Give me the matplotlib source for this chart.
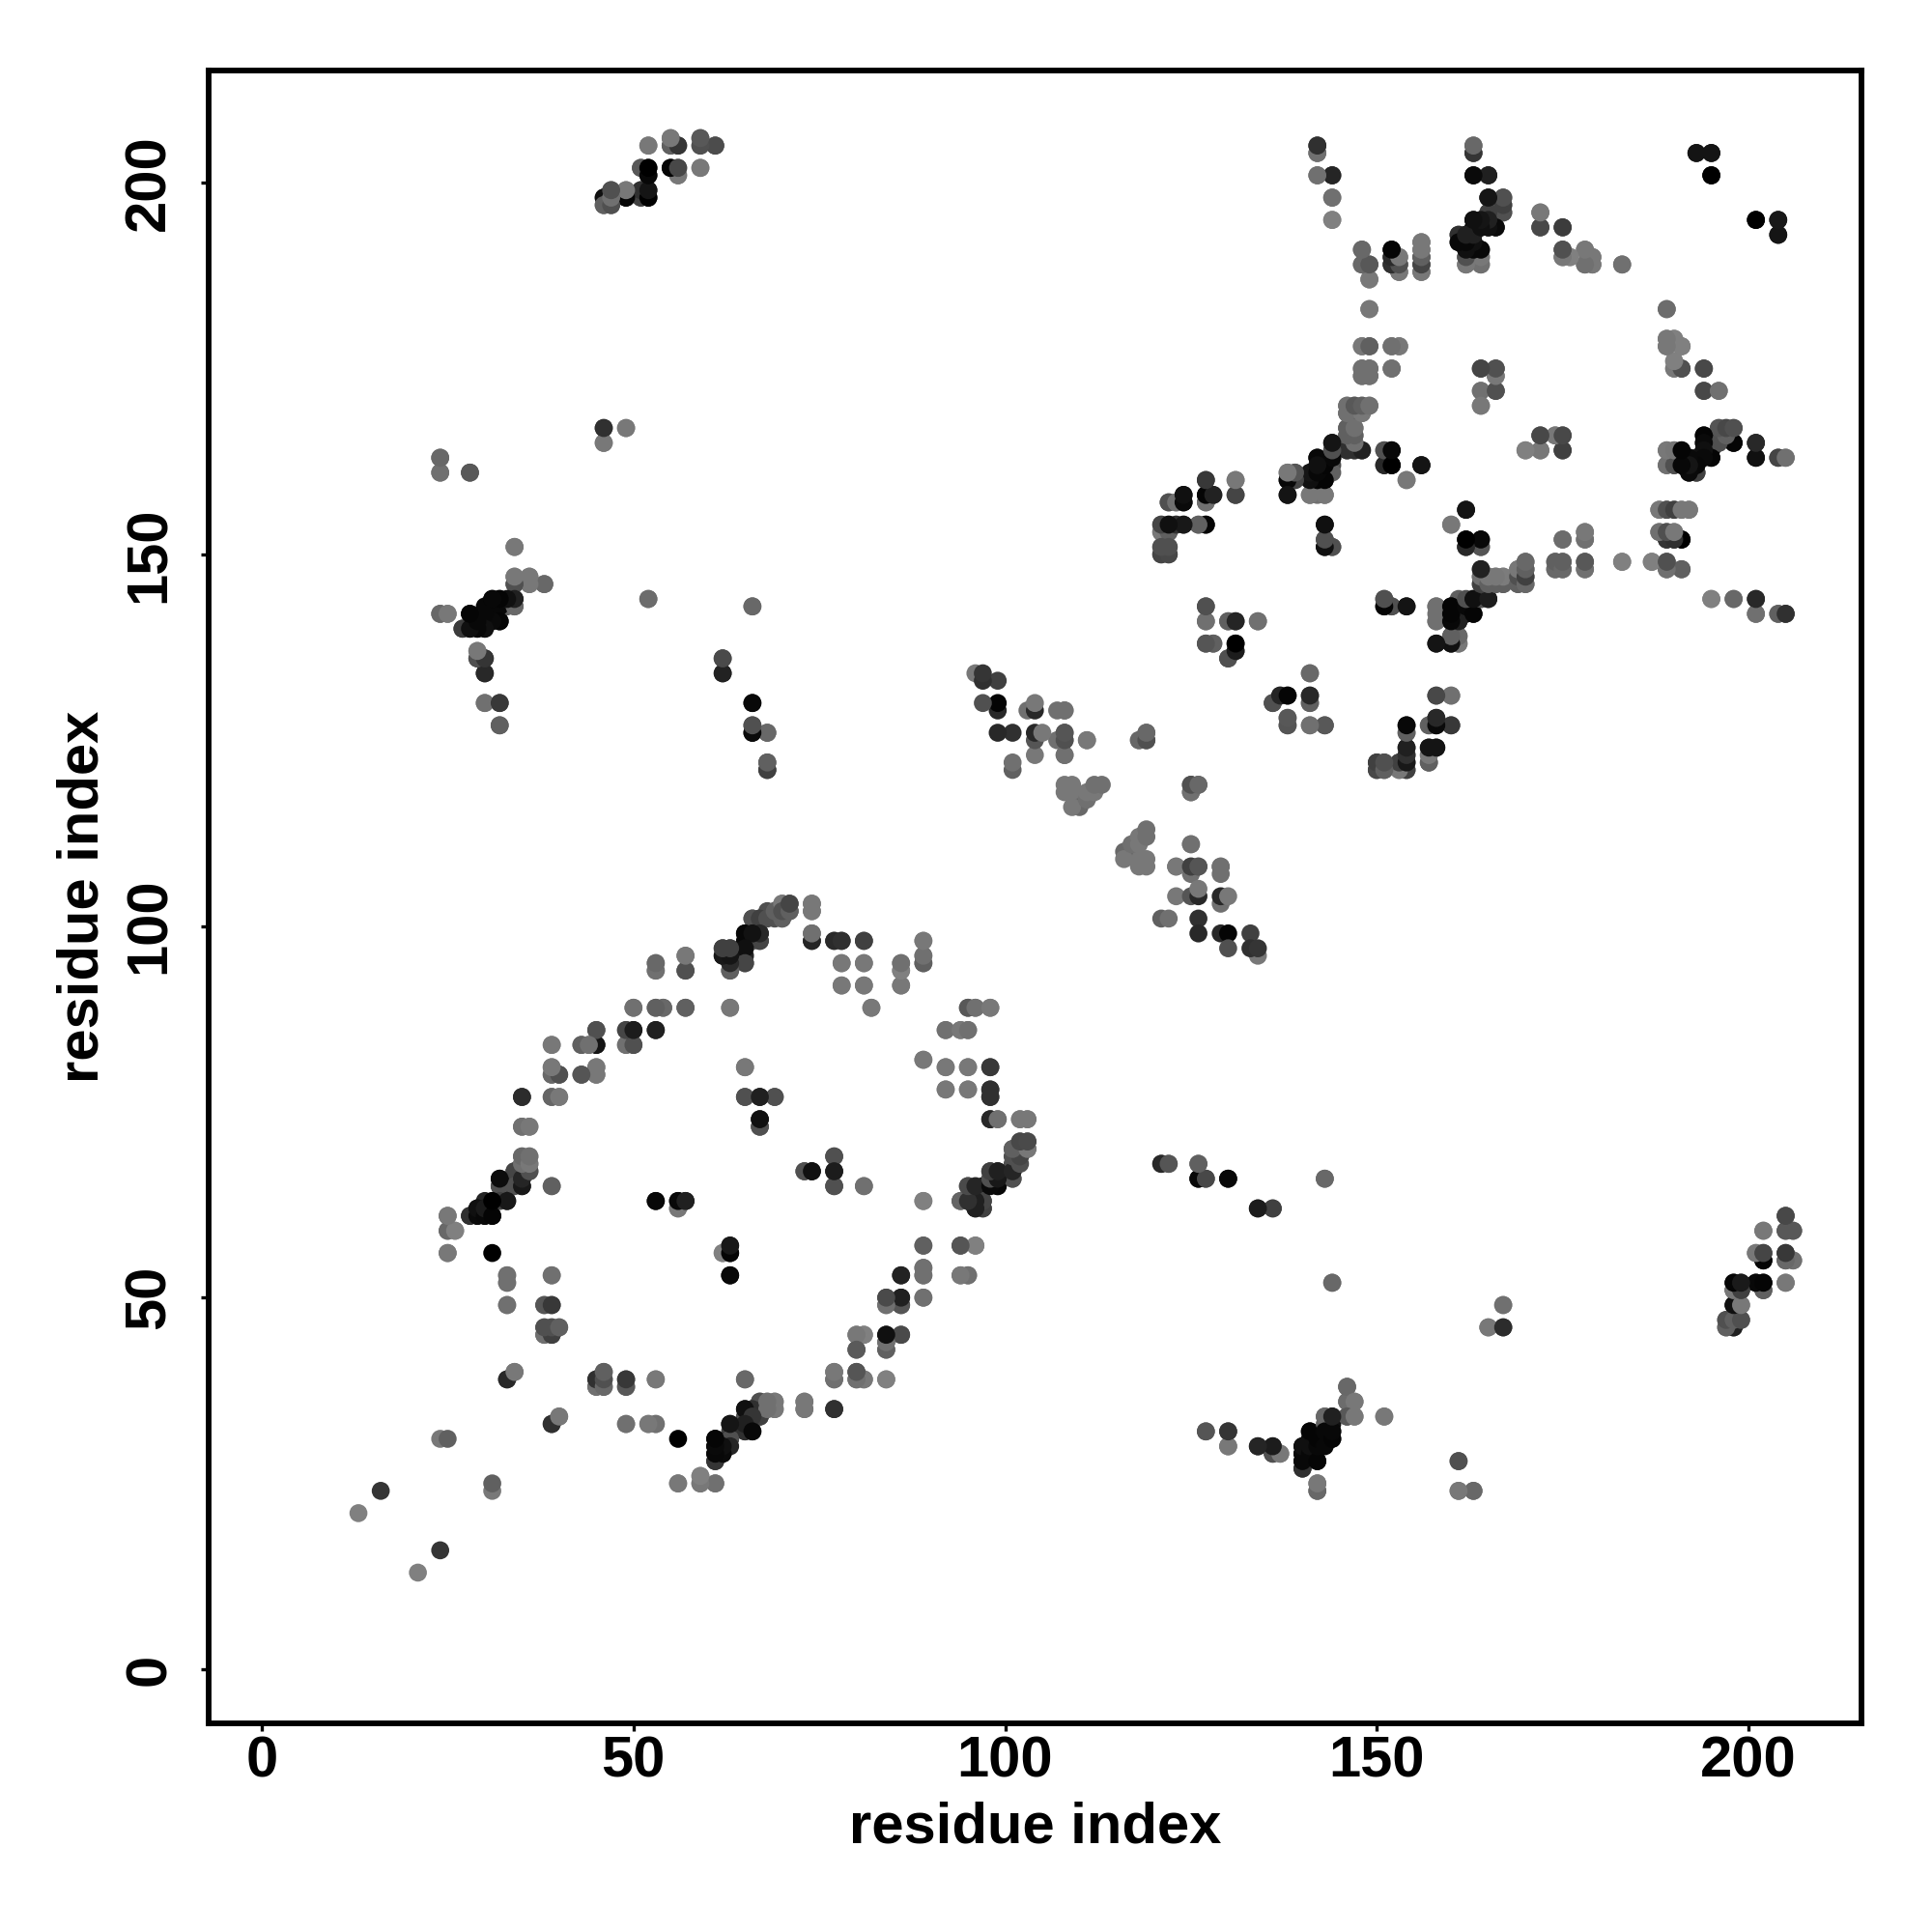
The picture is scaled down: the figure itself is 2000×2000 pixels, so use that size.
import matplotlib
matplotlib.use("Agg")
import matplotlib.pyplot as plt

# contacts as (residue a, residue b, grey level); the map is symmetric
ring_west = [(57,96,0x80),(57,94,0x55),(53,95,0x70),(53,94,0x78),(57,89,0x60),(53,89,0x70),(54,89,0x70),(50,89,0x70),
 (53,86,0x22),(49,86,0x55),(50,86,0x20),(49,84,0x70),(50,84,0x4a),(45,86,0x4a),(43,84,0x60),(44,84,0x70),(45,84,0x10),
 (39,84,0x80),(45,81,0x80),(45,80,0x78),(43,80,0x5a),(39,81,0x78),(39,80,0x70),(40,80,0x55),(39,77,0x70),(40,77,0x78),
 (35,77,0x30),(35,73,0x78),(36,73,0x78),(35,69,0x78),(36,69,0x78),(36,67,0x50),(34,67,0x40),(35,66,0x30),(35,68,0x70),(36,68,0x70),
 (39,65,0x68),(35,65,0x10),(34,66,0x35),(32,65,0x30),(33,65,0x20),(32,66,0x08),(31,63,0x50),(30,63,0x25),(33,63,0x15),
 (53,63,0x08),(56,62,0x80),(56,63,0x05),(57,63,0x18),(28,61,0x35),(29,62,0x0a),(30,62,0x10),(29,61,0x08),(30,61,0x0a),(31,61,0x05),
 (25,61,0x70),(25,59,0x78),(26,59,0x80),(25,56,0x78),(31,56,0x00)]
ring_south = [(33,53,0x70),(33,52,0x78),(39,53,0x78),(33,49,0x70),(38,49,0x58),(39,49,0x38),(38,45,0x70),(39,45,0x30),
 (38,46,0x68),(39,46,0x50),(40,46,0x60),(33,39,0x30),(34,40,0x78),(45,38,0x70),(45,39,0x40),(46,38,0x50),(46,39,0x50),(46,40,0x60),
 (49,38,0x55),(49,39,0x38),(53,39,0x70),(39,33,0x28),(40,34,0x78),(49,33,0x70),(52,33,0x70),(53,33,0x70),(24,31,0x78),(25,31,0x60),
 (16,24,0x35),(13,21,0x80),(56,25,0x78),(59,25,0x68),(59,26,0x80),(61,25,0x78)]
ring_north = [(62,97,0x40),(63,97,0x45),(62,96,0x20),(63,94,0x65),(63,96,0x20),(63,95,0x30),(65,95,0x4a),(65,96,0x25),(63,89,0x80),
 (65,99,0x08),(65,98,0x0a),(66,101,0x50),(66,98,0x50),(66,99,0x18),(67,98,0x40),(67,99,0x20),(67,101,0x25),(68,102,0x50),(69,101,0x50),
 (69,102,0x45),(70,101,0x60),(70,103,0x78),(71,102,0x48),(71,103,0x4a),(74,103,0x78),(74,102,0x78),(74,98,0x28),(74,99,0x70),
 (77,98,0x30),(78,98,0x30),(81,98,0x38),(78,95,0x78),(81,95,0x78),(78,92,0x78),(81,92,0x78),(82,89,0x78),(86,92,0x70),(86,94,0x78),(86,95,0x70),
 (89,95,0x58),(89,96,0x70),(89,98,0x78),(89,82,0x78),(92,86,0x78),(94,86,0x80),(95,86,0x70),(95,89,0x60),(96,89,0x70),(98,89,0x78),
 (92,81,0x78),(95,81,0x78),(98,81,0x40),(92,78,0x78),(95,78,0x78),(98,77,0x2a),(98,78,0x30),(98,74,0x25),(99,74,0x70),(102,74,0x78),(103,74,0x78)]
ring_east = [(101,66,0x50),(101,67,0x40),(101,68,0x50),(102,69,0x60),(103,70,0x78),(101,70,0x60),(102,70,0x50),(102,71,0x60),(103,71,0x45),
 (98,66,0x70),(98,67,0x45),(99,67,0x28),(99,65,0x08),(99,66,0x12),(97,65,0x10),(95,65,0x45),(94,63,0x60),(95,63,0x2a),(96,62,0x18),(96,63,0x15),
 (97,62,0x40),(97,63,0x40),(89,63,0x78),(89,57,0x60),(94,57,0x50),(96,57,0x78),(89,54,0x68),(89,53,0x60),(94,53,0x70),(95,53,0x68),(86,53,0x20),
 (89,50,0x70),(84,49,0x70),(84,50,0x50),(86,49,0x45),(86,50,0x1c),(80,45,0x78),(81,45,0x78),(84,45,0x14),(86,45,0x50),(80,43,0x55),(84,43,0x60),(84,44,0x70),
 (77,39,0x65),(77,40,0x78),(80,39,0x68),(80,40,0x50),(81,39,0x78),(84,39,0x78),(73,35,0x70),(73,36,0x78),(77,35,0x2c),(65,39,0x60)]
ring_southeast = [(67,34,0x45),(65,34,0x50),(65,32,0x50),(66,32,0x0c),(63,32,0x40),(63,33,0x18),(65,35,0x18),(66,35,0x25),(67,36,0x50),
 (68,35,0x70),(69,35,0x68),(68,36,0x78),(69,36,0x70),(61,28,0x30),(61,29,0x0a),(62,29,0x10),(61,30,0x08),(62,30,0x1a),(61,31,0x05),(63,31,0x00)]
ring_inner = [(65,81,0x70),(65,77,0x50),(69,77,0x50),(67,77,0x1c),(67,73,0x50),(67,74,0x10),(77,69,0x50),(77,65,0x50),(77,67,0x20),(73,67,0x50),(74,67,0x10),
 (81,65,0x78),(62,56,0x78),(63,56,0x08),(63,57,0x20),(63,53,0x08)]
arm_a = [(24,163,0x68),(24,161,0x78),(28,161,0x50),(46,165,0x78),(46,167,0x2c),(49,167,0x70),(34,151,0x78),(36,146,0x6c),(38,146,0x68),(36,147,0x78),(34,146,0x58),(34,147,0x78),
 (24,142,0x68),(25,142,0x78),(52,144,0x68),(66,143,0x68),(27,140,0x30),(28,140,0x08),(29,140,0x08),(30,140,0x10),(29,141,0x08),(30,141,0x10),(32,141,0x05),(28,142,0x05),(30,142,0x08),(31,142,0x05),
 (30,143,0x08),(33,143,0x60),(34,143,0x68),(32,143,0x08),(31,144,0x05),(32,144,0x08),(34,144,0x20),(29,136,0x50),(29,137,0x78),(30,136,0x1c),(30,134,0x25),(30,130,0x78),(32,130,0x35),(32,127,0x55),
 (62,136,0x40),(62,134,0x1c),(66,130,0x08),(66,126,0x08),(66,127,0x48),(68,126,0x60),(68,121,0x28),(68,122,0x55)]
arm_b = [(121,68,0x40),(122,68,0x60),(126,68,0x68),(126,66,0x0a),(127,66,0x50),(130,66,0x08),(143,66,0x68),(134,62,0x22),(136,62,0x4a),(144,52,0x6c),
 (167,49,0x78),(165,46,0x78),(167,46,0x30),(146,38,0x68),(146,36,0x78),(147,36,0x78),(146,34,0x50),(147,34,0x78),(151,34,0x78),(143,34,0x68),(144,34,0x20),(144,33,0x10),(144,32,0x05),(144,31,0x08),
 (141,32,0x05),(141,31,0x0a),(140,27,0x3c),(142,30,0x08),(140,30,0x10),(140,29,0x08),(140,28,0x10),(141,29,0x08),(142,28,0x05),(142,24,0x68),(142,25,0x78),
 (127,32,0x60),(130,30,0x70),(130,32,0x38),(134,30,0x28),(136,29,0x50),(136,30,0x35),(137,29,0x78),(161,28,0x58),(161,24,0x70),(163,24,0x68)]
arm_c = [(205,61,0x4c),(202,59,0x78),(205,59,0x50),(206,59,0x58),(201,56,0x78),(202,55,0x05),(202,56,0x48),(205,55,0x60),(205,56,0x35),(206,55,0x78),
 (202,51,0x58),(198,51,0x40),(199,51,0x30),(198,52,0x00),(199,52,0x15),(201,52,0x08),(202,52,0x00),(205,52,0x78),(198,49,0x05),(199,49,0x78),(198,46,0x10),(197,46,0x60),(197,47,0x50),(198,47,0x70),(199,47,0x50)]
arm_d = [(52,205,0x78),(55,206,0x70),(55,205,0x68),(56,205,0x38),(59,206,0x58),(59,205,0x58),(61,205,0x48),(51,202,0x60),(52,201,0x08),(52,202,0x05),(55,202,0x05),(56,201,0x78),(56,202,0x45),(59,202,0x78),
 (46,198,0x20),(46,197,0x60),(47,197,0x50),(47,198,0x60),(47,199,0x50),(49,198,0x10),(49,199,0x78),(51,198,0x78),(51,199,0x40),(52,198,0x05),(52,199,0x1a)]
chain_mid = [(108,129,0x70),(108,123,0x78),(108,125,0x40),(108,126,0x55),(111,125,0x70),(118,125,0x70),(119,125,0x50),(119,126,0x68),(125,118,0x68),(125,119,0x50),(126,119,0x68),
 (108,119,0x78),(109,119,0x78),(108,118,0x78),(109,118,0x78),(110,117,0x78),(110,116,0x68),(109,116,0x78),(111,117,0x70),(111,118,0x78),(112,118,0x78),(112,119,0x70),(113,119,0x70)]
chain_low = [(125,111,0x78),(123,108,0x70),(125,107,0x70),(125,108,0x50),(126,108,0x55),(129,107,0x70),(129,108,0x70),(123,104,0x78),(125,104,0x55),(126,104,0x28),(126,105,0x78),
 (129,103,0x70),(129,104,0x28),(130,104,0x78),(121,101,0x60),(122,101,0x70),(126,101,0x30),(126,99,0x28),(129,99,0x28),(130,99,0x05),(130,97,0x50),(133,99,0x40),(134,96,0x78),(133,97,0x30),(134,97,0x35)]
dom2_west = [(127,160,0x38),(131,160,0x70),(131,158,0x48),(127,157,0x60),(127,158,0x0a),(128,158,0x28),(122,157,0x60),(123,157,0x78),(124,158,0x14),(124,157,0x14),
 (121,154,0x40),(121,153,0x78),(122,153,0x40),(122,154,0x18),(123,154,0x30),(124,154,0x20),(126,154,0x60),(127,154,0x08),(121,150,0x48),(122,150,0x40),(121,151,0x60),(122,151,0x50),
 (127,143,0x58),(127,141,0x70),(130,141,0x60),(131,141,0x28),(134,141,0x68),(127,138,0x55),(128,138,0x58),(130,136,0x50),(131,137,0x25),(131,138,0x05),
 (141,134,0x70),(141,130,0x60),(141,131,0x25),(136,130,0x50),(137,131,0x1c),(138,131,0x00),(138,128,0x60),(138,127,0x55),(141,127,0x70),(143,127,0x50)]
dom2_centre = [(138,161,0x78),(139,161,0x68),(138,160,0x10),(139,160,0x60),(138,158,0x14),(141,158,0x70),(142,158,0x70),(143,158,0x70),(141,161,0x20),(141,160,0x08),(142,160,0x05),(143,160,0x05),
 (143,162,0x08),(142,163,0x05),(144,162,0x50),(144,164,0x50),(144,163,0x10),(144,165,0x1c),(146,164,0x40),(147,164,0x70),(146,166,0x60),(146,167,0x60),(146,165,0x60),(147,167,0x7c),(147,166,0x78),(147,165,0x78),(148,164,0x22),
 (146,169,0x60),(147,169,0x50),(148,169,0x78),(146,170,0x68),(147,170,0x40),(148,170,0x60),(149,170,0x68),(143,152,0x50),(143,154,0x14),(143,151,0x05),(144,151,0x50),
 (151,164,0x55),(152,164,0x08),(151,162,0x28),(152,162,0x00),(156,162,0x14),(154,160,0x78),(162,156,0x14),(160,154,0x78),(162,151,0x28),(164,151,0x50),(162,152,0x00),(164,152,0x08)]
dom2_belt = [(164,146,0x30),(164,147,0x30),(164,148,0x20),(165,147,0x70),(166,146,0x60),(167,146,0x60),(166,147,0x60),(167,147,0x70),(169,146,0x70),(169,148,0x78),(170,146,0x70),(170,147,0x58),(170,148,0x60),(170,149,0x70),
 (174,148,0x70),(175,148,0x70),(174,149,0x70),(175,149,0x70),(175,152,0x70),(178,153,0x78),(178,152,0x70),(178,148,0x78),(178,149,0x60),(183,149,0x78),(187,149,0x78),(189,148,0x68),(189,149,0x58),(191,148,0x68),
 (188,156,0x78),(189,156,0x45),(190,156,0x60),(191,156,0x78),(192,156,0x78),(188,153,0x78),(189,152,0x30),(189,153,0x50),(190,152,0x2a),(190,153,0x78),(191,152,0x05),
 (195,144,0x80),(198,144,0x70),(201,144,0x25),(201,142,0x70),(204,142,0x70),(205,142,0x30),(151,144,0x50),(151,143,0x10),(152,143,0x50),(154,143,0x10)]
dom2_south = [(158,143,0x78),(158,141,0x78),(161,144,0x60),(160,143,0x05),(160,142,0x05),(160,141,0x10),(161,141,0x15),(161,142,0x08),(162,143,0x05),(163,144,0x08),(163,142,0x08),(162,142,0x10),(164,144,0x50),(165,144,0x15),
 (160,139,0x45),(160,138,0x08),(161,139,0x55),(161,138,0x78),(158,138,0x14),(158,131,0x45),(160,131,0x78),(157,127,0x70),(158,127,0x05),(158,128,0x22),(160,127,0x38),
 (154,127,0x05),(154,126,0x60),(157,122,0x50),(157,123,0x70),(157,124,0x0a),(158,124,0x10),(153,121,0x78),(153,122,0x60),(154,121,0x45),(154,123,0x30),(154,124,0x18),(154,122,0x10),(150,121,0x45),(150,122,0x48),(151,121,0x50),(151,122,0x50)]
dom2_east = [(172,164,0x70),(170,164,0x78),(172,166,0x50),(174,166,0x78),(175,166,0x50),(175,164,0x45),(189,164,0x70),(189,162,0x78),(190,164,0x78),(190,162,0x50),(193,161,0x30),(191,164,0x08),(191,163,0x08),(191,162,0x10),
 (192,163,0x10),(192,162,0x08),(192,161,0x08),(193,162,0x20),(193,163,0x20),(196,167,0x50),(197,167,0x40),(198,167,0x50),(196,165,0x40),(194,166,0x0a),(194,165,0x10),(195,165,0x20),(198,165,0x15),(194,164,0x10),(195,164,0x15),(195,163,0x10),
 (201,165,0x20),(201,163,0x0a),(204,163,0x35),(205,163,0x68)]
dom2_north = [(142,204,0x60),(142,205,0x30),(142,201,0x70),(144,201,0x28),(144,198,0x68),(144,195,0x80),(148,191,0x60),(148,189,0x70),(149,187,0x80),(149,189,0x50),(149,183,0x80),
 (152,191,0x00),(152,189,0x35),(152,190,0x30),(153,188,0x70),(153,189,0x50),(153,190,0x78),(156,188,0x78),(156,189,0x50),(156,190,0x40),(156,191,0x78),(156,192,0x78),
 (163,204,0x45),(163,205,0x70),(163,201,0x10),(165,201,0x28),(165,198,0x05),(165,196,0x50),(166,197,0x60),(167,196,0x55),(167,197,0x48),(167,198,0x50),(166,194,0x05),(165,194,0x0a),(163,195,0x05),(164,194,0x10),(163,194,0x0a),
 (161,193,0x40),(162,193,0x08),(161,192,0x0a),(163,192,0x0a),(162,192,0x15),(162,189,0x70),(162,190,0x50),(164,189,0x78),(164,190,0x75),(162,191,0x08),(164,191,0x05),
 (172,194,0x48),(172,196,0x70),(175,194,0x48),(175,190,0x78),(175,191,0x50),(176,190,0x80),(178,191,0x80),(179,190,0x80),(178,189,0x78),(179,189,0x78),(183,189,0x6c),
 (193,204,0x15),(195,204,0x18),(195,201,0x00),(201,195,0x00),(204,195,0x14),(204,193,0x14),
 (148,178,0x70),(149,178,0x58),(152,178,0x70),(153,178,0x78),(148,174,0x68),(149,174,0x60),(148,175,0x68),(149,175,0x60),(152,175,0x6c),
 (164,175,0x40),(166,174,0x78),(166,175,0x48),(164,172,0x78),(166,172,0x48),(164,170,0x80),
 (189,183,0x70),(189,179,0x78),(190,179,0x78),(189,178,0x70),(191,178,0x78),(190,176,0x80),(190,175,0x78),(191,175,0x50),(194,175,0x3c),(194,172,0x48),(196,172,0x78)]

x_ticks = [0, 50, 100, 150, 200]
y_ticks = [0, 50, 100, 150, 200]
axis_label = "residue index"

groups = [ring_west, ring_south, ring_north, ring_east, ring_southeast, ring_inner, arm_a, arm_b, arm_c, arm_d,
          chain_mid, chain_low, dom2_west, dom2_centre, dom2_belt, dom2_south, dom2_east, dom2_north]
contacts = [c for g in groups for c in g]
xs = [c[0] for c in contacts] + [c[1] for c in contacts]
ys = [c[1] for c in contacts] + [c[0] for c in contacts]
greys = [(c[2]/255,)*3 for c in contacts] * 2

plt.rcParams['font.family'] = ['Liberation Sans', 'DejaVu Sans']
plt.rcParams['font.weight'] = 'bold'

fig = plt.figure(figsize=(10, 10), dpi=200, facecolor='white')
ax = fig.add_axes([216/2000, (2000-1784)/2000, (1927-216)/2000, (1784-73)/2000])
ax.scatter(xs, ys, s=45, c=greys, linewidths=0, zorder=3)
ax.set_xlim(-7.15, 215.2)
ax.set_ylim(-7.28, 215.1)
ax.set_xticks(x_ticks)
ax.set_yticks(y_ticks)
for s in ax.spines.values():
    s.set_linewidth(2.1)
ax.tick_params(axis='x', length=3.0, width=1.2, labelsize=21.5, pad=1.5)
ax.tick_params(axis='y', length=3.0, width=1.2, labelsize=21.5, pad=9)
for t in ax.get_yticklabels():
    t.set_rotation(90)
    t.set_va('center')
ax.set_xlabel(axis_label, fontsize=21.5, fontweight='bold', labelpad=4.5)
ax.set_ylabel(axis_label, fontsize=21.5, fontweight='bold', labelpad=5)
fig.savefig('out.png', dpi=200, facecolor='white')
